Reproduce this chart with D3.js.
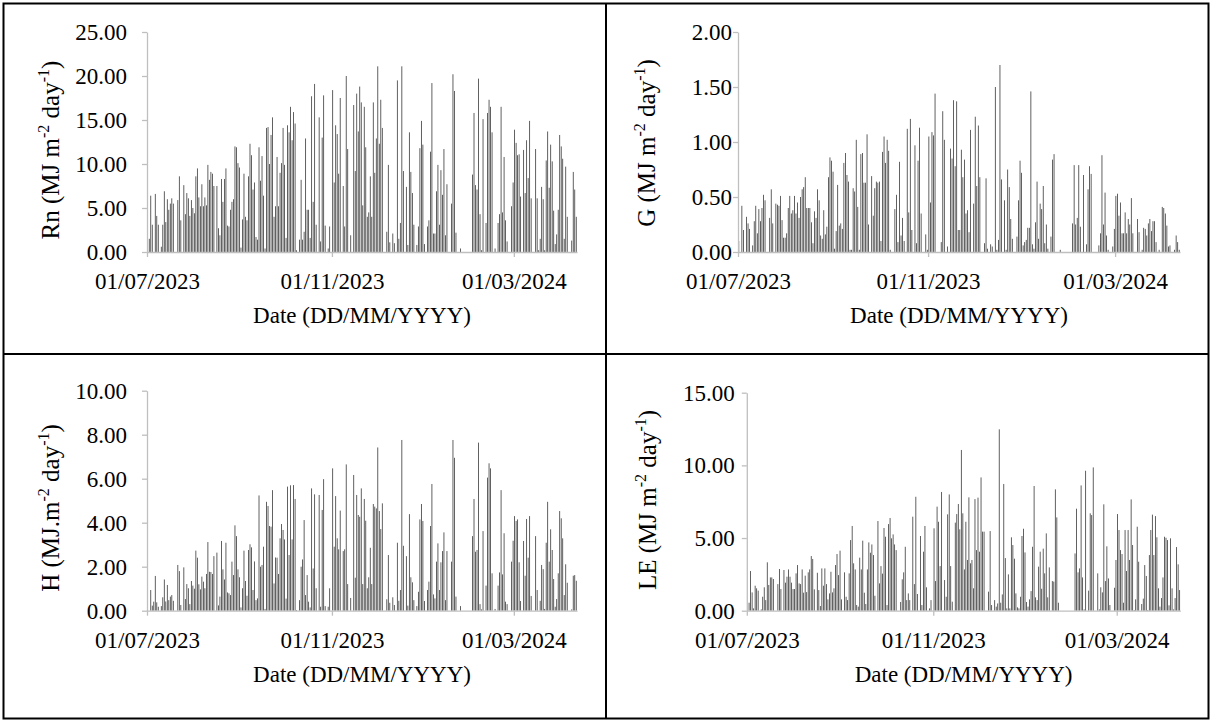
<!DOCTYPE html>
<html><head><meta charset="utf-8">
<script src="https://cdn.jsdelivr.net/npm/d3@7"></script>
<style>
html,body{margin:0;padding:0;background:#fff;}
svg text{font-family:"Liberation Serif","Times New Roman",serif;fill:#000;}
</style></head><body>
<svg id="chart" width="1212" height="722"></svg>
<script>
// ---------------- data ----------------
const startDate = "2023-07-01";
const dayCount = 286;
const tickDates = ["2023-07-01", "2023-11-01", "2024-03-01"];
const tickLabels = ["01/07/2023", "01/11/2023", "01/03/2024"];
const xTitle = "Date (DD/MM/YYYY)";

const rnTicks = [0, 5, 10, 15, 20, 25];
const gTicks = [0, 0.5, 1, 1.5, 2];
const hTicks = [0, 2, 4, 6, 8, 10];
const leTicks = [0, 5, 10, 15];

const rnValues = [
0,1.5,6.4,3.1,0,6.6,4.1,3.1,0,0.6,3.1,6.9,3.4,6.0,4.8,5.5,6.1,5.5,0,0,
5.9,8.6,3.6,0,7.6,4.3,6.7,6.1,4.1,5.9,5.0,4.4,8.6,9.5,6.2,5.2,7.7,5.2,6.2,5.3,
9.9,8.2,9.1,8.9,7.5,0,7.5,2.7,1.9,8.3,5.7,8.3,9.5,3.0,2.9,4.8,5.7,6.0,12.0,11.9,
10.1,9.6,0.5,3.7,8.9,4.0,3.6,8.6,12.3,11.0,7.1,7.9,1.7,1.4,11.9,8.1,10.9,6.4,0.4,14.1,
14.2,10.0,13.3,15.3,4.0,5.2,10.8,5.2,9.0,10.1,14.1,9.9,1.6,14.4,13.6,16.5,12.7,15.9,14.6,0.2,
0,1.4,8.2,1.4,2.3,12.9,4.8,4.8,1.6,17.7,5.7,19.1,3.1,0,15.3,1.2,13.0,17.8,3.0,0,
0.4,2.9,0,18.4,7.9,14.4,13.4,8.9,17.5,0,7.5,2.9,20.0,11.7,0,1.9,0,16.7,9.2,18.0,
13.7,18.8,17.0,5.3,16.5,11.9,4.0,4.5,8.6,4.0,17.0,9.0,12.9,21.1,12.3,17.3,14.1,0,0,2.3,
9.9,1.1,0,2.1,1.0,0,19.5,1.5,3.3,21.1,9.2,0,7.4,0.8,13.6,9.1,6.7,3.1,0,0.8,
2.9,11.8,14.9,12.2,0.9,0,2.9,3.6,11.4,19.2,2.1,2.1,6.9,9.9,3.1,9.3,6.5,11.7,1.9,7.7,
0,0,5.5,20.2,18.3,2.2,0,0,0.4,0,0,0,0,0,0,0,8.8,15.8,7.6,7.1,
19.7,4.3,0.2,15.1,0,3.3,15.8,17.3,16.5,13.6,0,0.4,0,3.3,4.3,16.5,4.5,10.8,3.6,1.2,
0,0,5.2,7.9,13.9,12.4,11.0,11.1,6.3,0,11.6,6.7,12.7,8.4,14.9,6.1,0,0,11.7,6.1,
0.2,1.5,7.4,6.0,0.2,10.4,13.7,7.3,12.2,10.3,4.7,0.9,2.0,4.8,13.3,12.0,10.6,1.5,9.7,4.0,
0,0,1.3,9.1,7.1,4.0
];

const gValues = [
0.10,0,0.42,0.20,0,0.32,0.26,0.21,0,0.06,0.28,0.42,0.17,0.39,0.28,0.40,0.52,0.47,0,0,
0.31,0.57,0.26,0,0.44,0.43,0.42,0.51,0.29,0.13,0.13,0.17,0.40,0.51,0.35,0.38,0.51,0.35,0.45,0.31,
0.50,0.57,0.59,0.68,0.40,0.40,0.40,0.27,0.08,0.37,0.31,0.57,0.47,0.15,0.12,0.38,0.16,0.23,0.68,0.86,
0.83,0.73,0.03,0.19,0.61,0.24,0.26,0.21,0.81,0.90,0.70,0.64,0.02,0.02,0.58,0.55,1.02,0.41,0.02,0.89,
0.90,0.63,0.63,1.07,0.25,0,0.69,0.33,0.58,0.64,0.63,0.64,0.10,0.91,1.05,0.81,1.02,0.92,0.02,0,
0,0.39,0.52,0.09,0.82,0.15,0.31,0.10,0,1.12,0.36,1.21,0.20,0,0.97,0.08,0.83,1.13,0.35,0,
0,0.16,0.02,1.05,0.45,1.09,1.06,1.44,0,0,0,0.09,1.28,1.02,0,0.05,0,0.94,0.85,1.38,
0.78,1.37,0.20,0.20,0.93,0.68,0.84,0.35,0.38,0.18,1.11,0,0.44,1.23,0.60,1.15,0.68,0,0,0.08,
0.67,0.03,0,0.07,0.05,0,1.50,0.02,0.11,1.70,0.66,0,0.47,0.02,0.75,0.59,0.30,0.12,0,0,
0.14,0.47,0.83,0.72,0.06,0.09,0.11,0.22,0.22,1.46,0.07,0.03,0.27,0.64,0.12,0.44,0.39,0.60,0.08,0.25,
0.03,0,0.14,0.84,0.89,0,0,0,0.02,0,0,0,0,0,0,0,0.26,0.79,0.25,0.31,
0.79,0.23,0,0.70,0,0.07,0.57,0.78,0.71,0,0,0,0,0.06,0.17,0.88,0.25,0.54,0.15,0.02,
0,0,0.05,0.21,0.51,0.53,0.33,0.45,0.17,0.17,0.36,0.17,0.30,0.25,0.49,0.17,0,0,0.30,0.18,
0,0.02,0.22,0.21,0.15,0.26,0.30,0.19,0.28,0.28,0.09,0,0.02,0,0.41,0.40,0.35,0.24,0.05,0.06,
0,0,0.02,0.15,0.09,0.02
];

const hValues = [
0,0,0.94,0.23,0.41,1.58,0.38,0.18,0,0.21,0.61,1.42,0.42,1.17,0.48,0.64,0.71,0.45,0,0,
2.08,1.80,0.26,0,1.97,0.53,1.21,1.02,0.30,1.35,1.14,1.00,2.73,2.41,1.20,0.97,1.55,1.32,1.02,1.67,
3.12,1.77,1.76,1.67,2.48,0,2.64,0.24,0.64,3.17,1.88,1.42,3.09,0.83,0.79,0.71,2.23,1.62,3.88,3.39,
1.88,1.52,0.15,1.02,2.73,1.35,0.68,2.76,3.02,2.88,0.94,2.24,0.48,0.56,5.24,2.00,2.08,2.91,0.08,4.95,
4.76,3.85,3.82,5.48,1.24,2.42,2.41,1.67,3.29,3.94,3.67,3.24,0.55,5.64,2.53,5.70,3.24,5.71,5.08,0.03,
0,0.48,2.00,2.33,4.12,0.71,1.62,0.41,0.15,5.56,1.92,5.29,1.02,0,5.26,0.18,4.58,5.98,0.21,0,
0.18,1.02,0,6.47,2.91,5.21,3.29,2.79,4.55,0,2.71,2.79,6.65,1.21,0,0.58,0,6.17,1.50,5.26,
4.35,4.27,5.56,1.21,5.08,4.09,1.02,1.52,2.86,1.21,4.85,4.73,4.65,7.42,4.53,3.71,4.88,0,0,0.52,
2.53,0.36,0,0.61,0.26,0,3.09,0.45,0.94,7.76,2.95,0,2.48,0.23,4.39,1.52,1.29,0.48,0,0.21,
0.86,4.15,4.85,4.08,0.44,0,0.94,1.32,3.85,5.76,0.74,0.56,2.23,3.06,0.94,2.20,2.71,3.56,0.48,2.71,
0,0,2.23,7.76,6.95,0.64,0,0,0.21,0,0,0,0,0,0,0,3.39,5.08,2.68,2.76,
7.64,0.30,0.06,3.62,0,1.14,6.05,6.70,6.47,1.70,0,0.08,0,1.14,1.74,5.48,1.65,3.52,0.41,0.30,
0,0,2.23,3.18,4.30,4.08,4.15,2.20,0.44,0,3.17,1.59,4.17,2.41,4.30,0.67,0,0,3.39,0.94,
0,0.45,2.08,1.89,0.08,3.09,4.95,2.23,3.70,2.76,1.44,0.18,0.53,1.70,4.53,4.20,3.29,0.71,2.11,1.27,
0,0,0.06,1.59,1.62,1.36
];

const leValues = [
0,0.55,2.73,1.26,0.16,1.72,1.54,1.38,0,0.09,0.96,1.61,0.73,3.33,1.77,2.29,2.29,2.18,0,0,
1.83,2.87,1.49,0,2.80,1.93,2.34,2.84,2.34,1.93,1.49,1.49,2.57,3.14,1.88,1.83,2.84,1.24,2.41,1.28,
2.64,2.84,3.76,3.56,1.47,0,2.61,1.42,0.32,2.91,1.72,2.91,1.83,0.78,1.19,2.68,1.26,1.54,3.14,3.90,
2.45,4.13,0.78,0,2.64,0.96,0.73,2.57,4.86,5.83,3.26,2.84,0.39,0.28,3.65,2.84,4.82,1.24,0.46,2.84,
4.70,3.99,4.56,3.83,1.03,0,6.17,1.88,3.07,2.55,5.69,5.09,0.39,5.96,6.38,4.98,5.25,4.56,4.17,0,
0,0.60,2.16,2.64,4.40,0.73,1.19,0.73,0,6.47,1.83,7.84,1.15,0,5.14,0.39,4.06,5.83,1.61,0,
0.16,0.73,0,5.67,2.04,7.16,6.12,3.07,8.17,0,2.11,0.96,6.63,8.00,3.07,0.62,0,6.06,6.65,7.34,
5.60,11.06,6.70,2.84,6.12,3.49,7.80,3.26,3.49,1.54,7.68,4.17,7.78,4.06,9.17,5.44,5.44,0,0,1.31,
5.48,0.39,0,0.73,0.28,0.50,12.48,0.55,1.12,8.72,3.62,0.16,2.50,0.16,5.05,4.52,3.58,1.19,0.23,0.16,
0.96,5.14,5.64,4.01,0.60,0.28,0.78,1.35,4.40,8.58,0.92,0.73,3.03,4.06,1.51,4.27,2.57,5.32,0.92,2.98,
0,2.04,2.00,8.35,6.42,0.55,0,0,0,0,0,0,0,0,0,0,3.94,7.02,2.64,2.91,
8.62,2.29,0.09,9.63,0,1.38,6.70,6.58,9.86,0,0,2.57,0.09,1.61,1.26,7.32,2.04,4.43,2.22,0.39,
0,0,1.58,3.49,6.65,5.55,4.17,3.90,0.55,5.55,2.73,5.55,3.49,7.66,4.52,0.05,0.78,5.78,3.37,0,
0.46,0.83,3.14,2.39,0.05,3.83,5.55,6.61,3.83,6.51,5.05,1.54,0.28,0.87,2.29,5.09,5.02,4.86,0.37,4.98,
1.54,0.09,0.87,4.38,3.19,1.42
];

const yTitleRn = ["Rn (MJ m", "-2", " day", "-1", ")"];
const yTitleG = ["G (MJ m", "-2", " day", "-1", ")"];
const yTitleH = ["H (MJ.m", "-2", " day", "-1", ")"];
const yTitleLE = ["LE (MJ m", "-2", " day", "-1", ")"];

// ---------------- drawing ----------------
const svg = d3.select("#chart");
const parse = d3.utcParse("%Y-%m-%d");
const t0 = parse(startDate);
const t1 = d3.utcDay.offset(t0, dayCount);
const days = d3.utcDay.range(t0, t1);
const tickDateObjs = tickDates.map(parse);

const AXIS = "#bfbfbf";
const BAR = "#3a3a3a";
const FS = 23;
const TFS = 25;

const panels = [
  {values: rnValues, ticks: rnTicks, title: yTitleRn, x0: 147, x1: 577, yb: 252, yt: 32, tx: 59, ty: 150, pad: 15},
  {values: gValues, ticks: gTicks, title: yTitleG, x0: 738, x1: 1180, yb: 252, yt: 32, tx: 655, ty: 143, pad: 1},
  {values: hValues, ticks: hTicks, title: yTitleH, x0: 147, x1: 577, yb: 610.7, yt: 390.7, tx: 59, ty: 508, pad: 15},
  {values: leValues, ticks: leTicks, title: yTitleLE, x0: 746.8, x1: 1180.4, yb: 610.7, yt: 392.7, tx: 656, ty: 500, pad: 7}
];

panels.forEach(p => {
  const g = svg.append("g");
  const x = d3.scaleUtc().domain([t0, t1]).range([p.x0, p.x1]);
  const y = d3.scaleLinear().domain([0, d3.max(p.ticks)]).range([p.yb, p.yt]);
  const slot = (p.x1 - p.x0) / dayCount;
  const bw = 0.8;

  // bars
  g.append("g").selectAll("rect")
    .data(days.map((d, i) => ({d, v: p.values[i]})).filter(e => e.v > 0))
    .join("rect")
    .attr("x", e => x(e.d) + (slot - bw) / 2)
    .attr("width", bw)
    .attr("y", e => y(e.v))
    .attr("height", e => p.yb - y(e.v))
    .attr("fill", BAR);

  // y axis
  const ya = g.append("g").attr("transform", `translate(${p.x0},0)`)
    .call(d3.axisLeft(y).tickValues(p.ticks).tickFormat(d3.format(".2f")).tickSize(5).tickSizeOuter(0).tickPadding(p.pad));
  ya.select(".domain").attr("stroke", AXIS).attr("stroke-width", 1.3);
  ya.selectAll(".tick line").attr("stroke", AXIS).attr("stroke-width", 1.3);
  ya.selectAll(".tick text").attr("font-size", FS).attr("fill", "#000");

  // x axis
  const xa = g.append("g").attr("transform", `translate(0,${p.yb})`)
    .call(d3.axisBottom(x).tickValues(tickDateObjs).tickFormat((d, i) => tickLabels[i]).tickSize(5).tickSizeOuter(0).tickPadding(16));
  xa.select(".domain").attr("stroke", AXIS).attr("stroke-width", 1.3);
  xa.selectAll(".tick line").attr("stroke", AXIS).attr("stroke-width", 1.3);
  xa.selectAll(".tick text").attr("font-size", FS).attr("fill", "#000");

  // x title
  g.append("text").attr("x", (p.x0 + p.x1) / 2).attr("y", p.yb + 71)
    .attr("text-anchor", "middle").attr("font-size", FS).text(xTitle);

  // y title
  const yt = g.append("text").attr("transform", `translate(${p.tx},${p.ty}) rotate(-90)`)
    .attr("text-anchor", "middle").attr("font-size", TFS);
  p.title.forEach((s, i) => {
    const sup = i % 2 === 1;
    yt.append("tspan").attr("font-size", sup ? 16 : TFS)
      .attr("dy", sup ? -10 : (i > 0 ? 10 : 0)).text(s);
  });
});

// frame
svg.append("rect").attr("x", 3.5).attr("y", 3.5).attr("width", 1205).attr("height", 715)
  .attr("fill", "none").attr("stroke", "#000").attr("stroke-width", 2);
svg.append("line").attr("x1", 606).attr("x2", 606).attr("y1", 3.5).attr("y2", 718.5)
  .attr("stroke", "#000").attr("stroke-width", 2);
svg.append("line").attr("x1", 3.5).attr("x2", 1208.5).attr("y1", 354).attr("y2", 354)
  .attr("stroke", "#000").attr("stroke-width", 2);
</script>
</body></html>
